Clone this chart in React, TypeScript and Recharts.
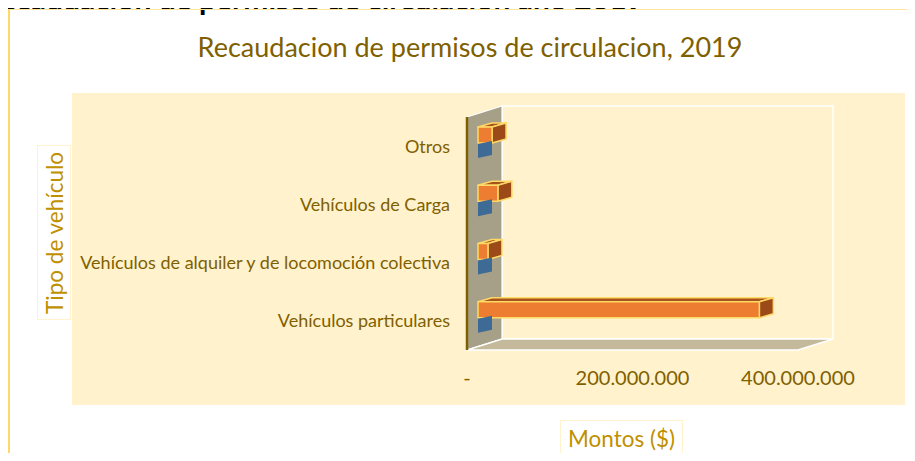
import React from 'react';
import { BarChart, Bar, XAxis, YAxis, ReferenceArea } from 'recharts';

const categories = [
  'Otros',
  'Vehículos de Carga',
  'Vehículos de alquiler y de locomoción colectiva',
  'Vehículos particulares',
];
const montosSerie2 = [17000000, 24000000, 12000000, 340000000];
const montosSerie1 = [0, 0, 0, 0];
const xTicks = [0, 200000000, 400000000];

const data = categories.map((name, i) => ({
  name,
  serie2: montosSerie2[i],
  serie1: montosSerie1[i],
}));

const FONT = 'Lato, "Open Sans", sans-serif';
const GOLD = '#7F6000';
const GOLD_LIGHT = '#BF9000';

const fmt = (n: number) =>
  n === 0 ? '-' : String(Math.round(n)).replace(/\B(?=(\d{3})+(?!\d))/g, '.');

const DX = 35; // wall depth offset x
const DY = -11; // wall depth offset y

const Walls = (props: any) => {
  const { x, y, width, height } = props;
  const x0 = x, x1 = x + width, y0 = y, y1 = y + height;
  return (
    <g>
      <rect x={x0 + DX} y={y0 + DY} width={width} height={height} fill="#FFF2CC" stroke="#FFFFFF" strokeWidth={1.5} />
      <polygon
        points={`${x0},${y0} ${x0 + DX},${y0 + DY} ${x0 + DX},${y1 + DY} ${x0},${y1}`}
        fill="#A6A089"
        stroke="#FFFFFF"
        strokeWidth={1.2}
      />
      <polygon
        points={`${x0},${y1} ${x1},${y1} ${x1 + DX},${y1 + DY} ${x0 + DX},${y1 + DY}`}
        fill="#C4BA9B"
        stroke="#FFFFFF"
        strokeWidth={1.5}
      />
    </g>
  );
};

const S = 11;
const D = 14;
const E = 4;
const UP = 3;

const OrangeBar = (props: any) => {
  const { x, y, width, height } = props;
  const bx = x + S;
  const by = y - UP;
  const w = Math.max(width, 0);
  return (
    <g stroke="#FFD966" strokeWidth={1.5} strokeLinejoin="round">
      <polygon
        points={`${bx},${by} ${bx + D},${by - E} ${bx + w + D},${by - E} ${bx + w},${by}`}
        fill="#A9531C"
      />
      <polygon
        points={`${bx + w},${by} ${bx + w + D},${by - E} ${bx + w + D},${by + height - E} ${bx + w},${by + height}`}
        fill="#9C4A17"
      />
      <rect x={bx} y={by} width={w} height={height} fill="#ED7D31" />
    </g>
  );
};

const BlueBar = (props: any) => {
  const { x, y, width, height } = props;
  const bx = x + S;
  const by = y - UP;
  const w = Math.max(width || 0, 0);
  return (
    <polygon
      points={`${bx},${by + 1} ${bx + D + w},${by - 2} ${bx + D + w},${by + height - 4} ${bx},${by + height - 1}`}
      fill="#3E6A96"
    />
  );
};

export default function App() {
  return (
    <div
      style={{
        margin: -8,
        position: 'relative',
        width: 915,
        height: 461,
        overflow: 'hidden',
        background: '#FFFFFF',
        fontFamily: FONT,
      }}
    >
      <div
        style={{
          position: 'absolute',
          left: -18,
          top: -17,
          fontSize: 30,
          lineHeight: '30px',
          fontWeight: 700,
          color: '#000000',
          whiteSpace: 'nowrap',
        }}
      >
        Recaudación de permisos de circulación año 2019
      </div>
      <div
        style={{
          position: 'absolute',
          left: 8,
          top: 9,
          width: 930,
          height: 470,
          borderLeft: '2px solid #FFD966',
          borderTop: '1.5px solid #FFE699',
          boxSizing: 'border-box',
        }}
      />
      <div
        style={{
          position: 'absolute',
          left: 72,
          top: 93,
          width: 833,
          height: 312,
          background: '#FFF2CC',
        }}
      />
      <div
        style={{
          position: 'absolute',
          left: 0,
          width: 940,
          top: 32,
          textAlign: 'center',
          fontSize: 27,
          lineHeight: '30px',
          color: GOLD,
          whiteSpace: 'nowrap',
        }}
      >
        Recaudacion de permisos de circulacion, 2019
      </div>
      <div
        style={{
          position: 'absolute',
          left: 37,
          top: 145,
          width: 34,
          height: 175,
          background: '#FFFFFF',
          border: '1.5px solid #FFF2CC',
          boxSizing: 'border-box',
          display: 'flex',
          alignItems: 'center',
          justifyContent: 'center',
        }}
      >
        <div
          style={{
            writingMode: 'vertical-rl',
            transform: 'rotate(180deg)',
            fontSize: 22.5,
            color: GOLD_LIGHT,
            whiteSpace: 'nowrap',
            lineHeight: '25px',
          }}
        >
          Tipo de vehículo
        </div>
      </div>
      <div
        style={{
          position: 'absolute',
          left: 560,
          top: 420,
          width: 123,
          height: 37,
          background: '#FFFFFF',
          border: '1.5px solid #FFF2CC',
          boxSizing: 'border-box',
          display: 'flex',
          alignItems: 'center',
          justifyContent: 'center',
          fontSize: 22.5,
          color: GOLD_LIGHT,
          whiteSpace: 'nowrap',
        }}
      >
        Montos ($)
      </div>
      <div style={{ position: 'absolute', left: 0, top: 0 }}>
        <BarChart
          width={915}
          height={461}
          data={data}
          layout="vertical"
          margin={{ top: 117, right: 117, bottom: 81, left: 0 }}
          barGap={0}
          barSize={16}
        >
          <ReferenceArea
            x1={0}
            x2={400000000}
            y1={categories[0]}
            y2={categories[categories.length - 1]}
            ifOverflow="visible"
            shape={(p: any) => <Walls {...p} />}
          />
          <XAxis
            type="number"
            domain={[0, 400000000]}
            ticks={xTicks}
            tickFormatter={fmt}
            axisLine={false}
            tickLine={false}
            height={30}
            tickMargin={15}
            tick={{ fill: GOLD, fontSize: 20, fontFamily: FONT }}
          />
          <YAxis
            type="category"
            dataKey="name"
            width={467}
            interval={0}
            tickLine={false}
            tickMargin={11}
            axisLine={{ stroke: GOLD, strokeWidth: 2.5 }}
            tick={{ fill: GOLD, fontSize: 18, fontFamily: FONT }}
          />
          <Bar dataKey="serie2" isAnimationActive={false} shape={(p: any) => <OrangeBar {...p} />} />
          <Bar dataKey="serie1" isAnimationActive={false} shape={(p: any) => <BlueBar {...p} />} />
        </BarChart>
      </div>
    </div>
  );
}
